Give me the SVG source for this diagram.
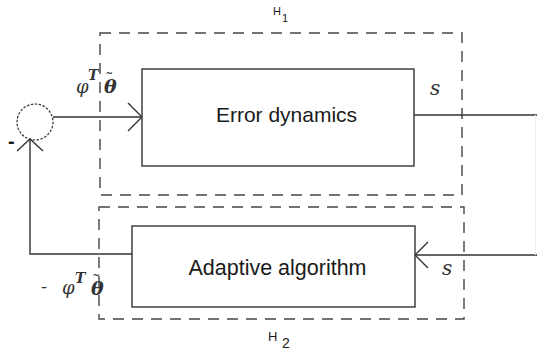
<svg xmlns="http://www.w3.org/2000/svg" width="537" height="354" viewBox="0 0 537 354">
<style>
.ln{fill:none;stroke:#333;stroke-width:1.4}
.dash{fill:none;stroke:#444;stroke-width:1.4;stroke-dasharray:11 8}
.box{fill:#fff;stroke:#333;stroke-width:1.4}
.lbl{font-family:"Liberation Sans",Arial,sans-serif;fill:#1a1a1a}
.math{font-family:"DejaVu Serif","Liberation Serif",serif;font-style:italic;fill:#333}
</style>
<rect width="537" height="354" fill="#fff"/>
<g id="H1">
<rect class="dash" x="100" y="33" width="362" height="162"/>
<text class="lbl" x="273" y="15" font-size="11">H</text>
<text class="lbl" x="282" y="22" font-size="11">1</text>
</g>
<g id="H2">
<rect class="dash" x="99" y="207" width="365" height="112"/>
<text class="lbl" x="268" y="341" font-size="13">H</text>
<text class="lbl" x="282" y="348" font-size="14">2</text>
</g>
<g id="connectors">
<path class="ln" d="M53 117 H142"/>
<path class="ln" d="M128 103 L142 117 L128 131"/>
<path class="ln" d="M414 115 H537"/>
<path class="ln" d="M537 255 H415"/>
<path class="ln" d="M428 242 L415 255 L428 268"/>
<path class="ln" d="M132 254 H30 V139"/>
<path class="ln" d="M17 151 L30 139 L43 151"/>
<path d="M535.5 115 V255" fill="none" stroke="#efefef" stroke-width="1"/>
</g>
<g id="sum">
<circle cx="35" cy="122" r="18" fill="none" stroke="#333" stroke-width="1.2" stroke-dasharray="2.5 1.5"/>
<text class="lbl" x="8" y="148" font-size="20" font-weight="bold">-</text>
</g>
<g id="error-dynamics">
<rect class="box" x="142" y="69" width="272" height="97"/>
<text class="lbl" x="286.5" y="122" font-size="21" text-anchor="middle">Error dynamics</text>
</g>
<g id="adaptive-algorithm">
<rect class="box" x="132" y="226" width="283" height="81"/>
<text class="lbl" x="277.5" y="275" font-size="21.5" text-anchor="middle">Adaptive algorithm</text>
</g>
<g id="labels">
<text class="math" x="76" y="93" font-size="18">φ<tspan x="88" y="80" font-size="14" font-weight="bold">T</tspan><tspan x="104" y="93" font-size="19" font-weight="bold">θ</tspan><tspan x="105" y="85" font-size="17" font-style="normal">˜</tspan></text>
<text class="math" x="430" y="95" font-size="20">s</text>
<text class="math" x="41" y="293" font-size="18">-<tspan x="62" y="294">φ</tspan><tspan x="75" y="283" font-size="14" font-weight="bold">T</tspan><tspan x="91" y="295" font-size="19" font-weight="bold">θ</tspan><tspan x="92" y="287" font-size="17" font-style="normal">˜</tspan></text>
<text class="math" x="442" y="275" font-size="20">s</text>
</g>
</svg>
